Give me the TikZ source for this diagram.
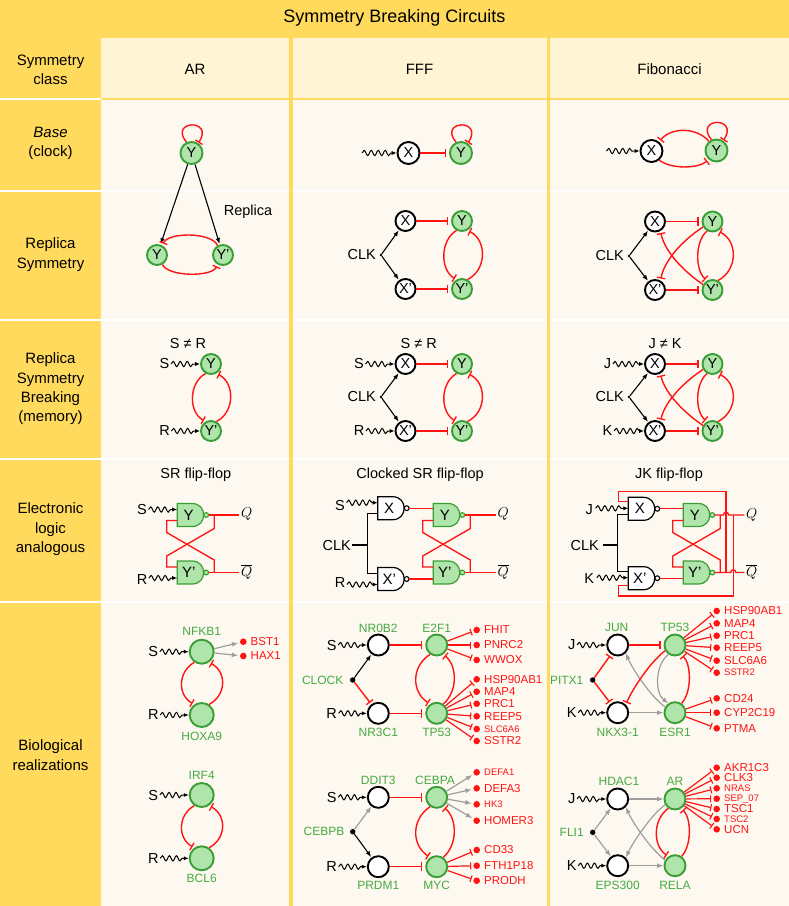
\documentclass[tikz,border=0pt]{standalone}
\usepackage{fontspec}
\setmainfont{Liberation Sans}
\usetikzlibrary{arrows.meta,decorations.pathmorphing,calc}
\definecolor{ydark}{HTML}{FFDA5C}
\definecolor{ylight}{HTML}{FFF5D5}
\definecolor{cream}{HTML}{FDF9F1}
\definecolor{gborder}{HTML}{3A9E36}
\definecolor{gfill}{HTML}{AFE4AA}
\definecolor{gtext}{HTML}{46AA40}
\definecolor{rd}{HTML}{FF1414}
\definecolor{gry}{HTML}{9E9E9E}
\tikzset{
  lab/.style={font=\fontsize{15}{19.3}\selectfont, align=center, inner sep=0pt},
  nl/.style={font=\fontsize{14.5}{16}\selectfont, inner sep=1.5pt},
  gnode/.style={circle, draw=gborder, fill=gfill, line width=1.9pt, minimum size=20pt, inner sep=0pt, font=\fontsize{14.5}{16}\selectfont},
  wnode/.style={circle, draw=black, fill=white, line width=1.9pt, minimum size=20pt, inner sep=0pt, font=\fontsize{14.5}{16}\selectfont},
  inh/.style={draw=rd, line width=1.4pt, -{Bar[width=8.5pt,line width=1.3pt]}, shorten >=2pt},
  tinh/.style={draw=rd, line width=1.2pt, -{Bar[width=7pt,line width=1.1pt]}, shorten >=2pt},
  act/.style={draw=black, line width=1.1pt, -{Latex[length=6pt,width=4.5pt]}, shorten >=0.5pt},
  gact/.style={draw=gry, line width=1.2pt, -{Latex[length=6.5pt,width=5pt]}, shorten >=1.5pt},
  wavy/.style={draw=black, line width=1pt, decorate, decoration={snake, segment length=7pt, amplitude=2.6pt, post length=4.5pt}, -{Latex[length=5pt,width=4.2pt]}},
  rline/.style={draw=rd, line width=1.35pt},
  bline/.style={draw=black, line width=1.1pt},
  gl/.style={text=gtext, font=\fontsize{12}{14}\selectfont, inner sep=0pt},
  tg/.style={text=rd, font=\fontsize{11.5}{13}\selectfont, inner sep=0pt, anchor=west},
  ts/.style={text=rd, font=\fontsize{9.5}{11}\selectfont, inner sep=0pt, anchor=west},
  rdot/.style={circle, fill=rd, minimum size=6.6pt, inner sep=0pt},
  kdot/.style={circle, fill=black, minimum size=5.4pt, inner sep=0pt},
  cdot/.style={circle, fill=black, minimum size=2.6pt, inner sep=0pt},
}
\newcommand{\mygate}[6]{%
  \begin{scope}[shift={(#2,#3)}]
    \draw[draw=#5, fill=#4, line width=1.2pt] (0,0) -- (15,0) .. controls (30.3,0) and (30.3,23) .. (15,23) -- (0,23) -- cycle;
    \draw[draw=#5, fill=#4, line width=1.1pt] (29,11.5) circle[radius=2.4];
    \node[font=\fontsize{15}{16}\selectfont, inner sep=0pt] (#1) at (11.5,11.5) {#6};
    \coordinate (#1o) at (31.4,11.5);
    \coordinate (#1a) at (0,6);
    \coordinate (#1b) at (0,17);
    \coordinate (#1t) at (0,4.5);
    \coordinate (#1m) at (0,11);
    \coordinate (#1u) at (0,18.5);
  \end{scope}}
\begin{document}
\begin{tikzpicture}[x=1pt,y=-1pt]
\useasboundingbox (0,0) rectangle (789,906);
% ---------- background grid
\fill[ydark] (0,0) rectangle (789,906);
\fill[ylight] (101,37.5) rectangle (289,97.7);
\fill[ylight] (292.8,37.5) rectangle (546.7,97.7);
\fill[ylight] (549.5,37.5) rectangle (789,97.7);
\fill[cream] (101,100) rectangle (789,906);
\fill[white] (0,97.8) rectangle (101,99.6);
\foreach \yy in {190,318.5,457.5,601}{\fill[white] (0,\yy) rectangle (789,\yy+2);}
\fill[ydark] (289,97.7) rectangle (292.8,906);
\fill[ydark] (546.7,97.7) rectangle (549.5,906);
% ---------- titles
\node[font=\fontsize{18}{21}\selectfont, inner sep=0pt] (title) at (394.5,17.5) {Symmetry Breaking Circuits};
\node[lab] (hAR) at (195,69.5) {AR};
\node[lab] (hFFF) at (419.5,69.5) {FFF};
\node[lab] (hFib) at (669.5,69.5) {Fibonacci};
\node[lab] (c1) at (50.5,69.7) {Symmetry\\class};
\node[lab] (c2) at (50.5,143.5) {\textit{Base}\\(clock)};
\node[lab] (c3) at (50.5,254.7) {Replica\\Symmetry};
\node[lab] (c4) at (50.5,388.8) {Replica\\Symmetry\\Breaking\\(memory)};
\node[lab] (c5) at (50.5,529.2) {Electronic\\logic\\analogous};
\node[lab] (c6) at (50.5,755) {Biological\\realizations};
% ---------- Base row
\node[gnode, minimum size=22pt] (aY0) at (191.5,153) {Y};
\draw[inh, shorten >=0.5pt] (aY0.115) .. controls +(-18,-22) and +(16,-25) .. (aY0.55);
\node[wnode, minimum size=22pt] (fX0) at (408.5,153) {X};
\node[gnode, minimum size=22pt] (fY0) at (461,153) {Y};
\coordinate (fw0) at (362,153);
\draw[wavy] (fw0) -- (fX0);
\draw[inh, shorten >=3pt] (fX0) -- (fY0);
\draw[inh, shorten >=0.5pt] (fY0.115) .. controls +(-18,-22) and +(16,-25) .. (fY0.55);
\node[wnode, minimum size=22pt] (bX0) at (651.5,151) {X};
\node[gnode, minimum size=22pt] (bY0) at (716.5,150.5) {Y};
\coordinate (bw0) at (606.5,151);
\draw[wavy] (bw0) -- (bX0);
\draw[inh] (bY0.130) .. controls (697,127) and (671,127) .. (bX0.50);
\draw[inh] (bX0.-50) .. controls (671,169) and (697,169) .. (bY0.-130);
\draw[inh, shorten >=0.5pt] (bY0.115) .. controls +(-18,-22) and +(16,-25) .. (bY0.55);
% ---------- Replica symmetry row
\node[gnode] (aY1) at (157,255) {Y};
\node[gnode] (aY2) at (223,255) {Y'};
\draw[act] (aY0) -- (aY1);
\draw[act] (aY0) -- (aY2);
\node[nl] (rep) at (248,212) {Replica};
\draw[inh] (aY2.120) .. controls (212,232) and (168,232) .. (aY1.60);
\draw[inh] (aY1.-60) .. controls (168,277) and (212,277) .. (aY2.-120);
% FFF
\node[wnode] (fX1) at (405.5,221) {X};
\node[gnode] (fY1) at (462,221) {Y};
\node[wnode] (fX2) at (405.5,289) {X'};
\node[gnode] (fY2) at (462,289) {Y'};
\node[nl, anchor=east, inner sep=1pt] (fclk1) at (377,255) {CLK};
\node[cdot] (fc1) at (381,255) {};
\draw[act] (fc1) -- (fX1);
\draw[act] (fc1) -- (fX2);
\draw[inh, shorten >=3pt] (fX1) -- (fY1);
\draw[inh, shorten >=3pt] (fX2) -- (fY2);
\draw[inh] (fY1.-120) .. controls (440,240) and (440,270) .. (fY2.120);
\draw[inh] (fY2.60) .. controls (487,270) and (487,240) .. (fY1.-60);
% Fib
\node[wnode] (bX1) at (655,221.5) {X};
\node[gnode] (bY1) at (712.5,221.5) {Y};
\node[wnode] (bX2) at (655,290) {X'};
\node[gnode] (bY2) at (712.5,290) {Y'};
\node[nl, anchor=east, inner sep=1pt] (bclk1) at (625,256) {CLK};
\node[cdot] (bc1) at (629,256) {};
\draw[act] (bc1) -- (bX1);
\draw[act] (bc1) -- (bX2);
\draw[inh, shorten >=3pt] (bX1) -- (bY1);
\draw[inh, shorten >=3pt] (bX2) -- (bY2);
\draw[inh] (bY1.-120) .. controls (695,241) and (695,270) .. (bY2.120);
\draw[inh] (bY2.60) .. controls (738,270) and (738,241) .. (bY1.-60);
\draw[inh] (bY1.-150) .. controls (686,238) and (665,258) .. (bX2.60);
\draw[inh] (bY2.150) .. controls (686,273) and (665,253) .. (bX1.-60);
% ---------- Replica symmetry breaking row
\node[nl] (aNe) at (188,344) {S ≠ R};
\node[gnode] (aY3) at (211,364) {Y};
\node[gnode] (aY4) at (211,431) {Y'};
\node[nl] (aS3) at (164.5,364) {S};
\node[nl] (aR3) at (164.5,431) {R};
\draw[wavy] (aS3) -- (aY3);
\draw[wavy] (aR3) -- (aY4);
\draw[inh] (aY3.-120) .. controls (188.5,383) and (188.5,412) .. (aY4.120);
\draw[inh] (aY4.60) .. controls (235,412) and (235,383) .. (aY3.-60);
% FFF
\node[nl] (fNe) at (418.7,344) {S ≠ R};
\node[wnode] (fX3) at (405.5,364) {X};
\node[gnode] (fY3) at (462,364) {Y};
\node[wnode] (fX4) at (405.5,431) {X'};
\node[gnode] (fY4) at (462,431) {Y'};
\node[nl] (fS3) at (359,364) {S};
\node[nl] (fR3) at (359,431) {R};
\draw[wavy] (fS3) -- (fX3);
\draw[wavy] (fR3) -- (fX4);
\node[nl, anchor=east, inner sep=1pt] (fclk3) at (377,397) {CLK};
\node[cdot] (fc3) at (381,397) {};
\draw[act] (fc3) -- (fX3);
\draw[act] (fc3) -- (fX4);
\draw[inh, shorten >=3pt] (fX3) -- (fY3);
\draw[inh, shorten >=3pt] (fX4) -- (fY4);
\draw[inh] (fY3.-120) .. controls (440,383) and (440,412) .. (fY4.120);
\draw[inh] (fY4.60) .. controls (487,412) and (487,383) .. (fY3.-60);
% Fib
\node[nl] (bNe) at (665,344) {J ≠ K};
\node[wnode] (bX3) at (655,364) {X};
\node[gnode] (bY3) at (712.5,364) {Y};
\node[wnode] (bX4) at (655,431) {X'};
\node[gnode] (bY4) at (712.5,431) {Y'};
\node[nl] (bJ3) at (607.5,364) {J};
\node[nl] (bK3) at (607.5,431) {K};
\draw[wavy] (bJ3) -- (bX3);
\draw[wavy] (bK3) -- (bX4);
\node[nl, anchor=east, inner sep=1pt] (bclk3) at (625,397) {CLK};
\node[cdot] (bc3) at (629,397) {};
\draw[act] (bc3) -- (bX3);
\draw[act] (bc3) -- (bX4);
\draw[inh, shorten >=3pt] (bX3) -- (bY3);
\draw[inh, shorten >=3pt] (bX4) -- (bY4);
\draw[inh] (bY3.-120) .. controls (695,383.5) and (695,411.5) .. (bY4.120);
\draw[inh] (bY4.60) .. controls (738,411.5) and (738,383.5) .. (bY3.-60);
\draw[inh] (bY3.-150) .. controls (686,380.5) and (665,400.5) .. (bX4.60);
\draw[inh] (bY4.150) .. controls (686,414) and (665,394) .. (bX3.-60);
% ---------- Electronic logic row
\node[nl] (ffA) at (195.8,475) {SR flip-flop};
\node[nl] (ffF) at (420,475) {Clocked SR flip-flop};
\node[nl] (ffB) at (669,475) {JK flip-flop};
% AR latch
\mygate{aGY}{177.2}{503.5}{gfill}{gborder}{Y}
\mygate{aGZ}{177.2}{561}{gfill}{gborder}{Y'}
\node[nl] (aS5) at (142,509) {S};
\node[nl] (aR5) at (142,580) {R};
\draw[wavy] (aS5.east |- aGYa) -- (aGYa);
\draw[wavy] (aR5.east |- aGZb) -- (aGZb);
\node[nl] (aQ) at (246.6,514.3) {$Q$};
\node[nl] (aQb) at (246.6,571.7) {$\overline{Q}$};
\draw[rline] (aGYo) -- (aGYo -| aQ.west);
\draw[rline] (aGZo) -- (aGZo -| aQb.west);
\draw[rline] (aGYo) ++(5.6,0) -- ++(0,13.5) -- ++(-47.5,27.5) |- (aGZa);
\draw[rline] (aGZo) ++(5.6,0) -- ++(0,-12.5) -- ++(-47.5,-27.5) |- (aGYb);
% FFF clocked latch
\mygate{fGX}{377.7}{496.7}{white}{black}{X}
\mygate{fGW}{377.7}{567.5}{white}{black}{X'}
\mygate{fGY}{433.3}{503.5}{gfill}{gborder}{Y}
\mygate{fGZ}{433.3}{561}{gfill}{gborder}{Y'}
\node[nl] (fS5) at (340,505) {S};
\node[nl] (fR5) at (340,583) {R};
\draw[wavy] (fS5.east |- fGXa) -- (fGXa);
\draw[wavy] (fR5.east |- fGWb) -- (fGWb);
\node[nl, anchor=east, inner sep=1pt] (fclk5) at (352,545) {CLK};
\coordinate (fck) at (367.7,545);
\draw[bline] (fclk5.east) -- (fck);
\draw[bline] (fGXb) -| (fck) |- (fGWa);
\draw[rline] (fGXo) -- (fGXo -| fGYa);
\draw[rline] (fGWo) -- (fGWo -| fGZb);
\node[nl] (fQ) at (503.3,514.3) {$Q$};
\node[nl] (fQb) at (503.3,571.7) {$\overline{Q}$};
\draw[rline] (fGYo) -- (fGYo -| fQ.west);
\draw[rline] (fGZo) -- (fGZo -| fQb.west);
\draw[rline] (fGYo) ++(5.6,0) -- ++(0,13.5) -- ++(-47.5,27.5) |- (fGZa);
\draw[rline] (fGZo) ++(5.6,0) -- ++(0,-12.5) -- ++(-47.5,-27.5) |- (fGYb);
% Fib JK
\mygate{bGX}{628.3}{497.3}{white}{black}{X}
\mygate{bGW}{628.3}{566.7}{white}{black}{X'}
\mygate{bGY}{683.3}{503.5}{gfill}{gborder}{Y}
\mygate{bGZ}{683.3}{561}{gfill}{gborder}{Y'}
\node[nl, inner sep=2.5pt] (bJ5) at (589.3,509.3) {J};
\node[nl, inner sep=2.5pt] (bK5) at (589.3,578.3) {K};
\draw[wavy] (bJ5.east |- bGXm) -- (bGXm);
\draw[wavy] (bK5.east |- bGWm) -- (bGWm);
\node[nl, anchor=east, inner sep=1pt] (bclk5) at (600,545) {CLK};
\coordinate (bck) at (617.3,545);
\draw[bline] (bclk5.east) ++(2.5,0) -- (bck);
\draw[bline] (bGXb) -| (bck) |- (bGWt);
\draw[rline] (bGXo) -- (bGXo -| bGYa);
\draw[rline] (bGWo) -- (bGWo -| bGZb);
\node[nl] (bQ) at (751.7,515) {$Q$};
\node[nl] (bQb) at (751.7,572) {$\overline{Q}$};
\coordinate (bj1) at (726,491.7);
\coordinate (bj2) at (733.3,596);
\draw[rline] (bGXt) -- ++(-10,0) |- (bj1) -- (bj1 |- bGZo);
\draw[rline] (bGWu) -- ++(-10,0) |- (bj2) -- (bj2 |- bGYo);
\draw[rline] (bGYo) -- ($(bj1 |- bGYo)+(-2.6,0)$) .. controls +(0,-3.6) and +(0,-3.6) .. ($(bj1 |- bGYo)+(2.6,0)$) -- (bGYo -| bQ.west);
\draw[rline] (bGZo) -- ($(bj2 |- bGZo)+(-2.6,0)$) .. controls +(0,-3.6) and +(0,-3.6) .. ($(bj2 |- bGZo)+(2.6,0)$) -- (bGZo -| bQb.west);
\draw[rline] (bGYo) ++(5.6,0) -- ++(0,13.5) -- ++(-47.5,27.5) |- (bGZa);
\draw[rline] (bGZo) ++(5.6,0) -- ++(0,-12.5) -- ++(-47.5,-27.5) |- (bGYb);
% ---------- Biological row: AR column
\node[gnode, minimum size=24pt] (nfkb) at (201.7,651.7) {};
\node[gnode, minimum size=24pt] (hoxa) at (201.7,715) {};
\node[gl] (nfkbL) at (201.7,631.7) {NFKB1};
\node[gl] (hoxaL) at (201.7,736.7) {HOXA9};
\node[nl] (gS1) at (153.3,651.7) {S};
\node[nl] (gR1) at (153.3,715) {R};
\draw[wavy] (gS1) -- (nfkb);
\draw[wavy] (gR1) -- (hoxa);
\draw[inh] (nfkb.-125) .. controls (177.6,672) and (177.6,695) .. (hoxa.125);
\draw[inh] (hoxa.55) .. controls (226.7,695) and (226.7,672) .. (nfkb.-55);
\node[rdot] (dBST) at (243.3,641.7) {};
\node[rdot] (dHAX) at (243.3,656) {};
\node[tg] (tBST) at (250.5,641.7) {BST1};
\node[tg] (tHAX) at (250.5,656) {HAX1};
\draw[gact] (nfkb) -- (dBST);
\draw[gact] (nfkb) -- (dHAX);
\node[gnode, minimum size=24pt] (irf) at (201.7,795) {};
\node[gnode, minimum size=24pt] (bcl) at (201.7,858.3) {};
\node[gl] (irfL) at (201.7,775.7) {IRF4};
\node[gl] (bclL) at (201.7,878.3) {BCL6};
\node[nl] (gS2) at (153.3,795) {S};
\node[nl] (gR2) at (153.3,858.3) {R};
\draw[wavy] (gS2) -- (irf);
\draw[wavy] (gR2) -- (bcl);
\draw[inh] (irf.-125) .. controls (177.6,815.3) and (177.6,838.3) .. (bcl.125);
\draw[inh] (bcl.55) .. controls (226.7,838.3) and (226.7,815.3) .. (irf.-55);
% ---------- Biological row: FFF column, top
\node[wnode, minimum size=21pt] (nr0b) at (378.3,645) {};
\node[gnode, minimum size=21pt] (e2f) at (436.7,645) {};
\node[wnode, minimum size=21pt] (nr3c) at (378.3,713.3) {};
\node[gnode, minimum size=21pt] (tp5) at (436.7,713.3) {};
\node[gl] (nr0bL) at (378.3,628.3) {NR0B2};
\node[gl] (e2fL) at (436.7,628.3) {E2F1};
\node[gl] (nr3cL) at (378.3,732.7) {NR3C1};
\node[gl] (tp5L) at (436.7,732.7) {TP53};
\node[gl] (clkL) at (322.7,680) {CLOCK};
\node[kdot] (clkD) at (352.7,680) {};
\node[nl] (gS3) at (331.7,645) {S};
\node[nl] (gR3) at (331.7,713.3) {R};
\draw[wavy] (gS3) -- (nr0b);
\draw[wavy] (gR3) -- (nr3c);
\draw[act] (clkD) -- (nr0b);
\draw[inh] (clkD) -- (nr3c);
\draw[inh, shorten >=3pt] (nr0b) -- (e2f);
\draw[inh, shorten >=3pt] (nr3c) -- (tp5);
\draw[inh] (e2f.-125) .. controls (411.3,666) and (411.3,692) .. (tp5.125);
\draw[inh] (tp5.55) .. controls (457.6,692) and (457.6,666) .. (e2f.-55);
\foreach \t/\y/\s [count=\i] in {FHIT/630/tg,PNRC2/645/tg,WWOX/660/tg}{
  \node[rdot] (fa\i) at (476.7,\y) {};
  \node[\s] (fat\i) at (484,\y) {\t};
  \draw[tinh] (e2f) -- (fa\i);
}
\foreach \t/\y/\s [count=\i] in {HSP90AB1/679.3/tg,MAP4/691.7/tg,PRC1/703.7/tg,REEP5/716.3/tg,SLC6A6/729/ts,SSTR2/741/tg}{
  \node[rdot] (fb\i) at (476.7,\y) {};
  \node[\s] (fbt\i) at (484,\y) {\t};
  \draw[tinh] (tp5) -- (fb\i);
}
% FFF bottom
\node[wnode, minimum size=21pt] (ddit) at (378.3,797.3) {};
\node[gnode, minimum size=21pt] (cebpa) at (436.7,797.3) {};
\node[wnode, minimum size=21pt] (prdm) at (378.3,866.7) {};
\node[gnode, minimum size=21pt] (myc) at (436.7,866.7) {};
\node[gl] (dditL) at (378.3,780) {DDIT3};
\node[gl] (cebpaL) at (435,780) {CEBPA};
\node[gl] (prdmL) at (378.3,885) {PRDM1};
\node[gl] (mycL) at (436.7,885) {MYC};
\node[gl] (cebpbL) at (324,831.7) {CEBPB};
\node[kdot] (cebpbD) at (352.7,831.7) {};
\node[nl] (gS4) at (331.7,797.3) {S};
\node[nl] (gR4) at (331.7,866.7) {R};
\draw[wavy] (gS4) -- (ddit);
\draw[wavy] (gR4) -- (prdm);
\draw[gact, shorten >=0pt] (cebpbD) -- (ddit);
\draw[act] (cebpbD) -- (prdm);
\draw[inh, shorten >=3pt] (ddit) -- (cebpa);
\draw[inh, shorten >=3pt] (prdm) -- (myc);
\draw[inh] (cebpa.-125) .. controls (411.3,819) and (411.3,845) .. (myc.125);
\draw[inh] (myc.55) .. controls (457.6,845) and (457.6,819) .. (cebpa.-55);
\foreach \t/\y/\s [count=\i] in {DEFA1/772.3/ts,DEFA3/788.3/tg,HK3/804.3/ts,HOMER3/820.7/tg}{
  \node[rdot] (fc\i) at (476.7,\y) {};
  \node[\s] (fct\i) at (484,\y) {\t};
  \draw[gact] (cebpa) -- (fc\i);
}
\foreach \t/\y/\s [count=\i] in {CD33/850/tg,FTH1P18/865.7/tg,PRODH/880.7/tg}{
  \node[rdot] (fd\i) at (476.7,\y) {};
  \node[\s] (fdt\i) at (484,\y) {\t};
  \draw[tinh] (myc) -- (fd\i);
}
% ---------- Biological row: Fibonacci column, top
\node[wnode, minimum size=21pt] (jun) at (617.7,645) {};
\node[gnode, minimum size=21pt] (tpb) at (675,645) {};
\node[wnode, minimum size=21pt] (nkx) at (617.7,712.7) {};
\node[gnode, minimum size=21pt] (esr) at (675,712.7) {};
\node[gl] (junL) at (616.7,627.3) {JUN};
\node[gl] (tpbL) at (675,627.3) {TP53};
\node[gl] (nkxL) at (617.7,732.7) {NKX3-1};
\node[gl] (esrL) at (675,732.7) {ESR1};
\node[gl] (pitL) at (566.7,680) {PITX1};
\node[kdot] (pitD) at (592.7,680) {};
\node[nl] (gJ5) at (571.7,645) {J};
\node[nl] (gK5) at (571.7,712.7) {K};
\draw[wavy] (gJ5) -- (jun);
\draw[wavy] (gK5) -- (nkx);
\draw[inh] (pitD) -- (jun);
\draw[inh] (pitD) -- (nkx);
\draw[inh, shorten >=3pt] (jun) -- (tpb);
\draw[gact, shorten >=0pt] (nkx) -- (esr);
\draw[gact, shorten >=0pt] (tpb.-125) .. controls (654.8,665) and (654.8,693) .. (esr.125);
\draw[inh] (esr.55) .. controls (691.6,693) and (691.6,665) .. (tpb.-55);
\draw[gact, shorten >=0pt] (esr.150) .. controls (650,696) and (632,668) .. (jun.-45);
\draw[inh] (tpb.-150) .. controls (650,662) and (632,690) .. (nkx.45);
\foreach \t/\y/\s [count=\i] in {HSP90AB1/611/tg,MAP4/623.3/tg,PRC1/635.7/tg,REEP5/647.7/tg,SLC6A6/660.7/tg,SSTR2/672.7/ts}{
  \node[rdot] (ba\i) at (716.7,\y) {};
  \node[\s] (bat\i) at (724,\y) {\t};
  \draw[tinh] (tpb) -- (ba\i);
}
\foreach \t/\y/\s [count=\i] in {CD24/698.3/tg,CYP2C19/712.7/tg,PTMA/728.3/tg}{
  \node[rdot] (bb\i) at (716.7,\y) {};
  \node[\s] (bbt\i) at (724,\y) {\t};
  \draw[tinh] (esr) -- (bb\i);
}
% Fib bottom
\node[wnode, minimum size=21pt] (hdac) at (617.7,799) {};
\node[gnode, minimum size=21pt] (arn) at (675,799) {};
\node[wnode, minimum size=21pt] (eps) at (617.7,865.7) {};
\node[gnode, minimum size=21pt] (rela) at (675,865.7) {};
\node[gl] (hdacL) at (619,781.7) {HDAC1};
\node[gl] (arnL) at (675,781.7) {AR};
\node[gl] (epsL) at (617.7,885) {EPS300};
\node[gl] (relaL) at (675,885) {RELA};
\node[gl] (fliL) at (571.7,832.3) {FLI1};
\node[kdot] (fliD) at (592.7,832.3) {};
\node[nl] (gJ6) at (571.7,799) {J};
\node[nl] (gK6) at (571.7,865.7) {K};
\draw[wavy] (gJ6) -- (hdac);
\draw[wavy] (gK6) -- (eps);
\draw[gact, shorten >=0pt] (fliD) -- (hdac);
\draw[gact, shorten >=0pt] (fliD) -- (eps);
\draw[gact, shorten >=0pt] (hdac) -- (arn);
\draw[gact, shorten >=0pt] (eps) -- (rela);
\draw[gact, shorten >=0pt] (arn.-150) .. controls (650,816) and (632,844) .. (eps.45);
\draw[gact, shorten >=0pt] (rela.150) .. controls (650,849) and (632,821) .. (hdac.-45);
\draw[inh] (arn.-125) .. controls (652.7,819) and (652.7,846) .. (rela.125);
\draw[inh] (rela.55) .. controls (691.6,846) and (691.6,819) .. (arn.-55);
\foreach \t/\y/\s [count=\i] in {AKR1C3/767.7/tg,CLK3/777.7/tg,NRAS/788.3/ts,SEP\_07/798.7/ts,TSC1/809/tg,TSC2/819/ts,UCN/829.3/tg}{
  \node[rdot] (bc\i) at (716.7,\y) {};
  \node[\s] (bct\i) at (724,\y) {\t};
  \draw[tinh] (arn) -- (bc\i);
}
\end{tikzpicture}
\end{document}
